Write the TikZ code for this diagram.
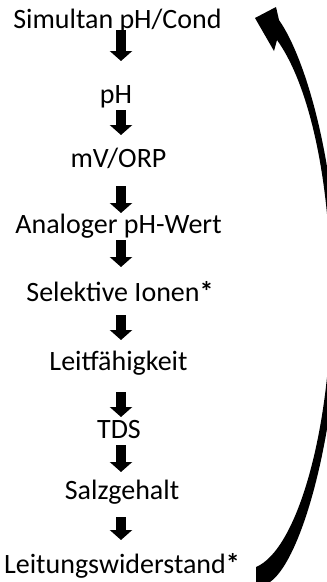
\documentclass[tikz,border=0pt]{standalone}
\usepackage{fontspec}
\setmainfont{Carlito}
\usetikzlibrary{arrows.meta}

\begin{document}
\begin{tikzpicture}[
		x=1pt, y=-1pt,
		step label/.style={anchor=base, inner sep=0pt, font=\fontsize{28}{32}\selectfont},
		blockarrow/.style={-{Triangle[width=22pt, length=10pt]}, line width=10pt},
		backarrow/.style={fill=black}
		]
		
		% Page frame (the curved arrow runs past the right edge)
		\clip (0,0) rectangle (327,582);
		
		% The measurement steps
		\node[step label] (simcond) at (117.5,28)  {Simultan pH/Cond};
		\node[step label] (ph)      at (116,103)   {pH};
		\node[step label] (orp)     at (118.5,167) {mV/ORP};
		\node[step label] (analog)  at (118.5,233) {Analoger pH-Wert};
		\node[step label] (ionen)   at (120,301)   {Selektive Ionen\textbf{*}};
		\node[step label] (cond)    at (118.5,370) {Leitfähigkeit};
		\node[step label] (tds)     at (119,438)   {TDS};
		\node[step label] (salz)    at (122,499)   {Salzgehalt};
		\node[step label] (resist)  at (122,573)   {Leitungswiderstand\textbf{*}};
		
		% Down arrows between the steps
		\foreach \i/\top/\tip in {1/30/61, 2/110/135, 3/186/213, 4/240/267,
			5/315/340, 6/392/417, 7/445/472, 8/517/540} {
			\coordinate (top\i) at (121,\top);
			\coordinate (tip\i) at (121,\tip);
			\draw[blockarrow] (top\i) -- (tip\i);
		}
		
		% Big curved arrow back to the top
		\fill[backarrow] (256,582) -- (256,567)
			.. controls (297,550) and (331,430) .. (331,300)
			.. controls (331,170) and (306,80) .. (277,40)
			-- (274,51) -- (255,18) -- (276,7) -- (279,20)
			.. controls (307,60) and (338,170) .. (338,300)
			.. controls (338,430) and (302,560) .. (270,582) -- cycle;
		
	\end{tikzpicture}
\end{document}
